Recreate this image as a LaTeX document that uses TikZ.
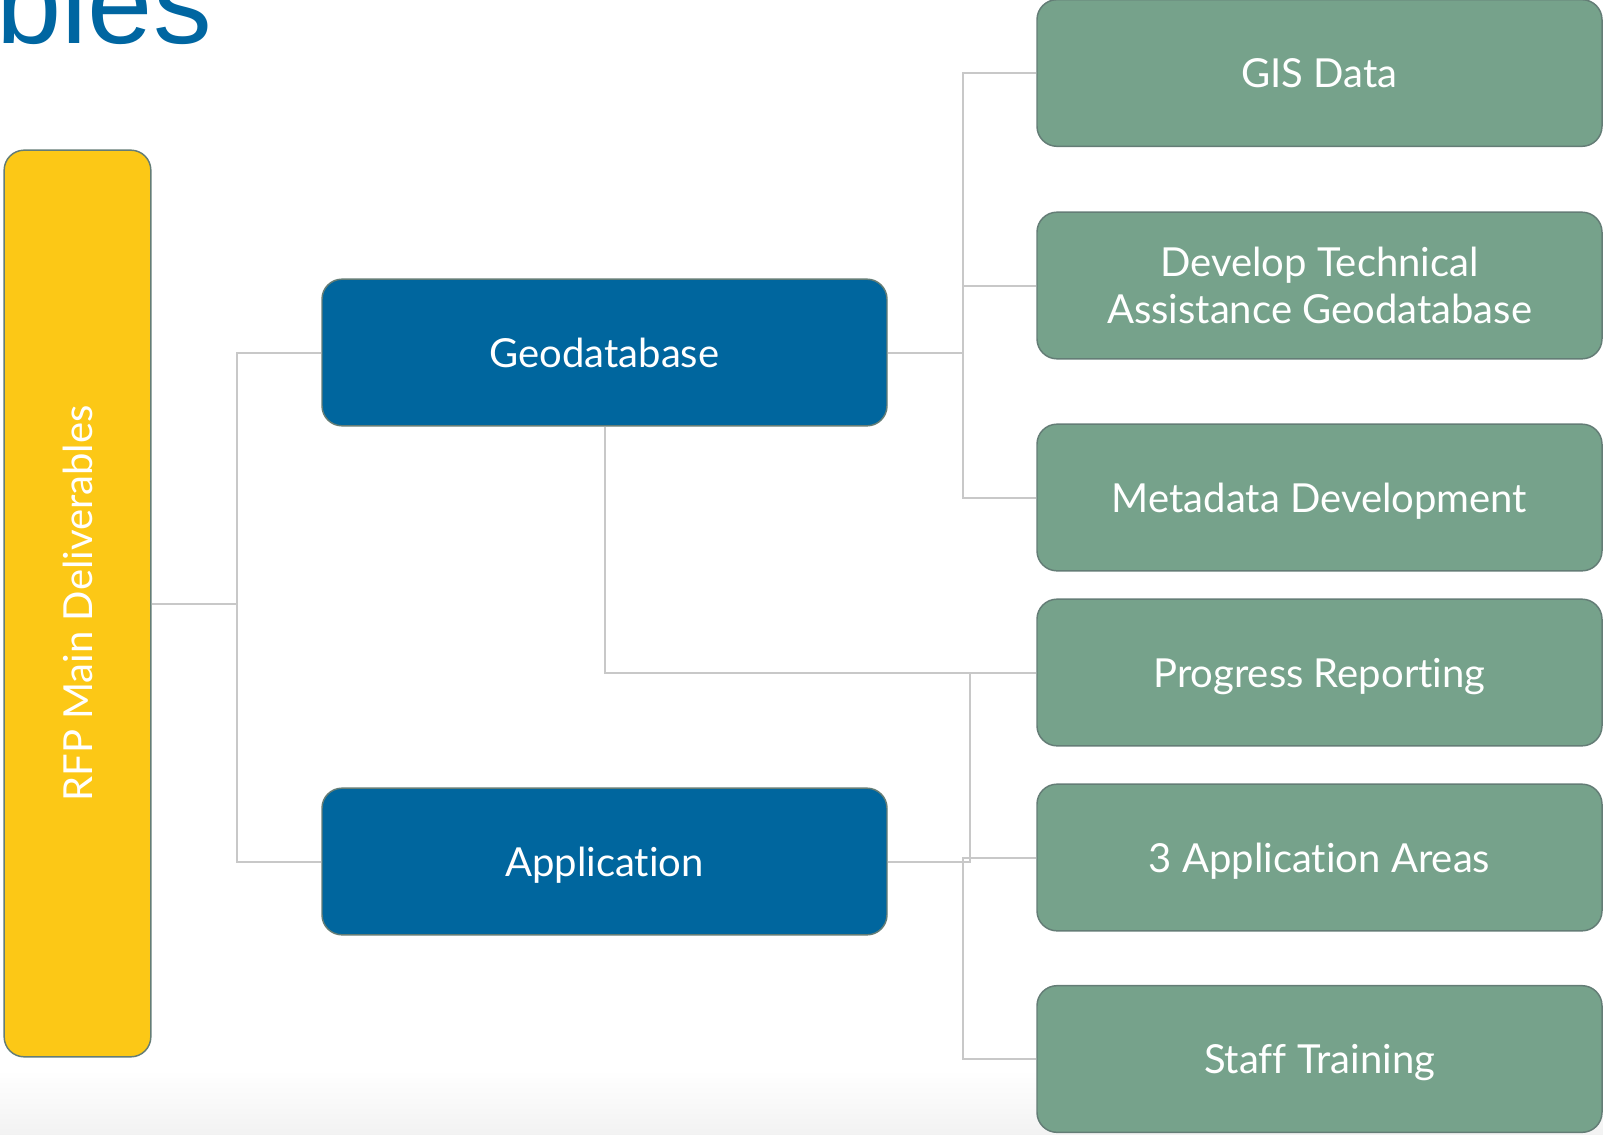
\documentclass[tikz,border=0pt]{standalone}
\usepackage{fontspec}
\setmainfont{Lato}[Ligatures=NoCommon]
\newfontfamily\titlefont{Liberation Sans}
\usetikzlibrary{positioning}
\definecolor{rfpyellow}{RGB}{252,200,22}
\definecolor{geoblue}{RGB}{0,102,158}
\definecolor{taskgreen}{RGB}{118,162,139}
\definecolor{boxline}{RGB}{100,125,118}
\definecolor{linkgray}{RGB}{200,200,200}
\definecolor{titleblue}{RGB}{0,102,161}

\begin{document}
\begin{tikzpicture}[x=0.75pt,y=-0.75pt,
    box/.style={draw=boxline,line width=1.1pt,rounded corners=15pt,text=white,align=center,text depth=0pt,
      inner sep=0pt,minimum width=423.75pt,minimum height=110pt,font=\fontsize{30}{35}\selectfont},
    geobox/.style={box,fill=geoblue},
    taskbox/.style={box,fill=taskgreen},
    link/.style={draw=linkgray,line width=1.5pt}]
  \useasboundingbox (0,0) rectangle (1603,1135);
  \shade[top color=white,bottom color=black!5] (0,1070) rectangle (1603,1135);

  % title, cut at the page edge
  \begin{scope}
    \clip (0,0) rectangle (1603,1135);
    \node[anchor=base east,inner sep=0pt,text=titleblue,font=\titlefont\fontsize{88}{100}\selectfont] (title) at (212,43) {bles};
  \end{scope}

  \node[box,fill=rfpyellow,minimum width=110pt,minimum height=680pt] (rfp) at (77.5,603.5) {};
  \node[rotate=90,text=white,font=\fontsize{30}{35}\selectfont] (rfplabel) at (rfp.center) {RFP Main Deliverables};

  \node[geobox] (geo) at (604.5,352.5) {Geodatabase};
  \node[geobox] (app) at (604.5,861.5) {Application};

  \node[taskbox] (gis) at (1319.5,73) {GIS Data};
  \node[taskbox] (dev) at (1319.5,285.5) {Develop Technical\\Assistance Geodatabase};
  \node[taskbox] (meta) at (1319.5,497.5) {Metadata Development};
  \node[taskbox] (prog) at (1319.5,672.5) {Progress Reporting};
  \node[taskbox] (areas) at (1319.5,857.5) {3 Application Areas};
  \node[taskbox] (staff) at (1319.5,1059) {Staff Training};

  % connectors
  \draw[link] (rfp.east) -- ++(85,0) coordinate (rfpfork);
  \draw[link] (rfpfork) |- (geo.west);
  \draw[link] (rfpfork) |- (app.west);
  \draw[link] (geo.east) -- ++(75,0) coordinate (geofork);
  \draw[link] (geofork) |- (gis.west);
  \draw[link] (geofork) |- (dev.west);
  \draw[link] (geofork) |- (meta.west);
  \draw[link] (geo.south) |- (prog.west);
  \draw[link] (app.east) -- ++(82,0) |- (prog.west);
  \draw[link] (app.east) -- ++(75,0) coordinate (appfork);
  \draw[link] (appfork) |- (areas.west);
  \draw[link] (appfork) |- (staff.west);
\end{tikzpicture}
\end{document}
